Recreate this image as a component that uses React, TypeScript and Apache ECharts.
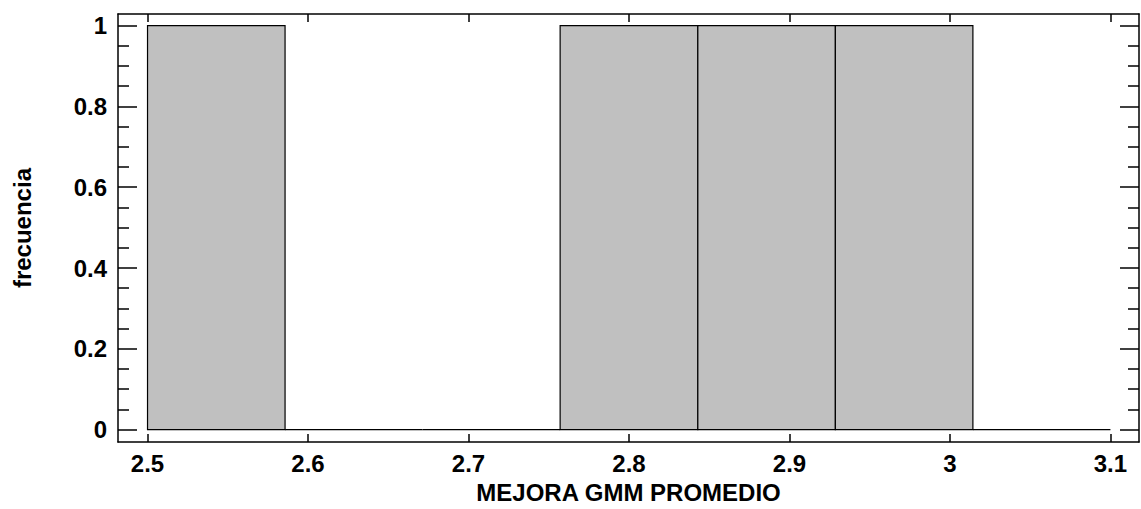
import React, { useEffect, useRef } from "react";
import * as echarts from "echarts";

const binStarts = [2.5, 2.5857, 2.6714, 2.7571, 2.8429, 2.9286, 3.0143];
const binEnds = [2.5857, 2.6714, 2.7571, 2.8429, 2.9286, 3.0143, 3.1];
const counts = [1, 0, 0, 1, 1, 1, 0];
const xTicks = [2.5, 2.6, 2.7, 2.8, 2.9, 3, 3.1];
const yTicks = [0, 0.2, 0.4, 0.6, 0.8, 1];
const yMinorTicks = [0.05, 0.1, 0.15, 0.25, 0.3, 0.35, 0.45, 0.5, 0.55, 0.65, 0.7, 0.75, 0.85, 0.9, 0.95];
const xTitle = "MEJORA GMM PROMEDIO";
const yTitle = "frecuencia";

const FONT = "'Liberation Sans', Arial, Helvetica, sans-serif";
const X_MIN = 2.4816;
const X_MAX = 3.1178;
const Y_MIN = -0.031;
const Y_MAX = 1.0288;

export default function App() {
  const ref = useRef<HTMLDivElement>(null);
  useEffect(() => {
    if (!ref.current) return;
    const chart = echarts.init(ref.current, null, { renderer: "svg" });
    const lineStyle = { color: "#000", width: 1.5 };
    const labelStyle = { color: "#000", fontFamily: FONT, fontWeight: "bold" as const, fontSize: 24 };
    const baseX = { type: "value" as const, min: X_MIN, max: X_MAX, splitLine: { show: false } };
    const baseY = { type: "value" as const, min: Y_MIN, max: Y_MAX, splitLine: { show: false } };
    const data = binStarts.map((s, i) => [s, binEnds[i], counts[i]]);
    chart.setOption({
      animation: false,
      backgroundColor: "#fff",
      grid: { left: 118, right: 2, top: 14, bottom: 65, containLabel: false },
      xAxis: [
        {
          ...baseX,
          position: "bottom",
          axisLine: { show: true, onZero: false, lineStyle },
          axisTick: { show: true, inside: true, length: 8, customValues: xTicks, lineStyle },
          axisLabel: { ...labelStyle, margin: 9, customValues: xTicks },
          name: xTitle,
          nameLocation: "middle",
          nameGap: 34,
          nameTextStyle: { color: "#000", fontFamily: FONT, fontWeight: "bold", fontSize: 24 },
        },
        {
          ...baseX,
          position: "top",
          axisLine: { show: true, onZero: false, lineStyle },
          axisTick: { show: true, inside: true, length: 8, customValues: xTicks, lineStyle },
          axisLabel: { show: false },
        },
      ],
      yAxis: [
        {
          ...baseY,
          position: "left",
          axisLine: { show: true, onZero: false, lineStyle },
          axisTick: { show: true, inside: true, length: 19, customValues: yTicks, lineStyle },
          axisLabel: { ...labelStyle, margin: 11, customValues: yTicks },
          name: yTitle,
          nameLocation: "middle",
          nameGap: 84,
          nameRotate: 90,
          nameTextStyle: { color: "#000", fontFamily: FONT, fontWeight: "bold", fontSize: 24 },
        },
        {
          ...baseY,
          position: "left",
          axisLine: { show: false },
          axisTick: { show: true, inside: true, length: 11, customValues: yMinorTicks, lineStyle },
          axisLabel: { show: false },
        },
        {
          ...baseY,
          position: "right",
          axisLine: { show: true, onZero: false, lineStyle },
          axisTick: { show: true, inside: true, length: 19, customValues: yTicks, lineStyle },
          axisLabel: { show: false },
        },
        {
          ...baseY,
          position: "right",
          axisLine: { show: false },
          axisTick: { show: true, inside: true, length: 11, customValues: yMinorTicks, lineStyle },
          axisLabel: { show: false },
        },
      ],
      series: [
        {
          type: "custom",
          xAxisIndex: 0,
          yAxisIndex: 0,
          encode: { x: [0, 1], y: 2 },
          data,
          renderItem: (params: any, api: any) => {
            const s = api.value(0);
            const e = api.value(1);
            const c = api.value(2);
            const p0 = api.coord([s, c]);
            const p1 = api.coord([e, 0]);
            if (c === 0) {
              return {
                type: "line",
                shape: { x1: p0[0], y1: p1[1], x2: p1[0], y2: p1[1] },
                style: { stroke: "#000", lineWidth: 1.2 },
              };
            }
            return {
              type: "rect",
              shape: { x: p0[0], y: p0[1], width: p1[0] - p0[0], height: p1[1] - p0[1] },
              style: { fill: "#c0c0c0", stroke: "#000", lineWidth: 1.2 },
            };
          },
        },
      ],
    });
    return () => chart.dispose();
  }, []);
  return (
    <div
      ref={ref}
      style={{ position: "fixed", left: 0, top: 0, width: 1141, height: 509, background: "#fff" }}
    />
  );
}
